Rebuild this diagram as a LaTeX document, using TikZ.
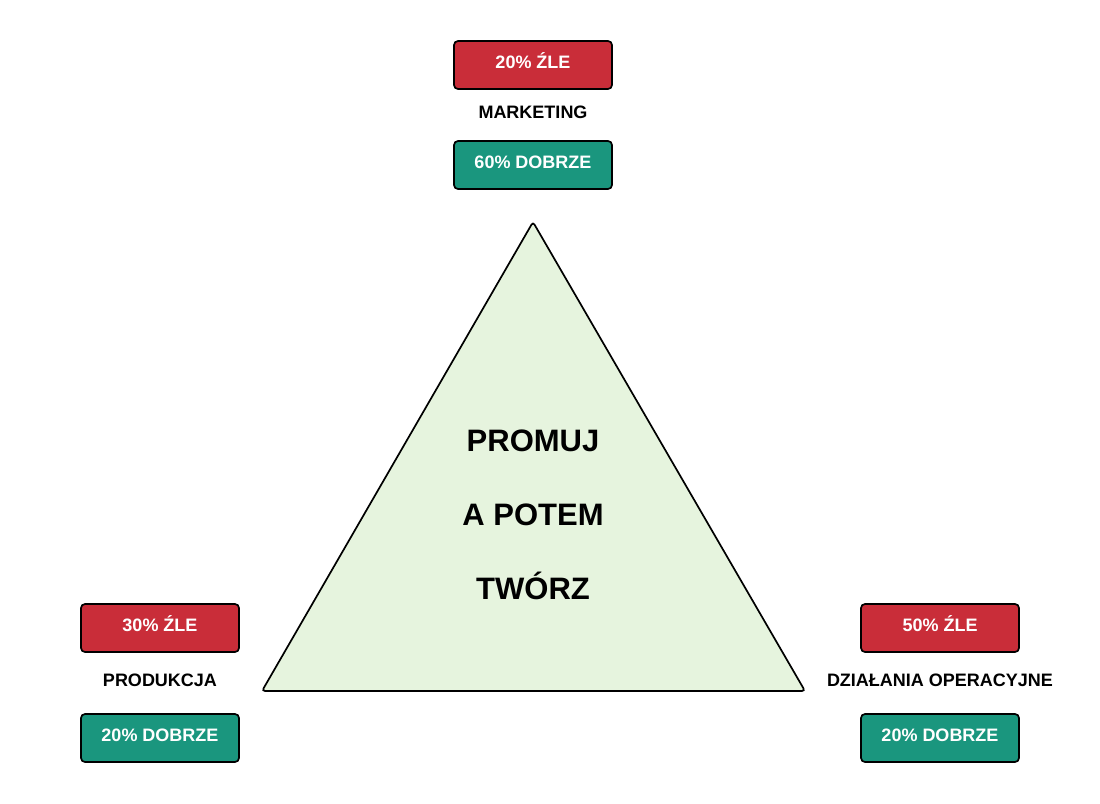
\documentclass[tikz,border=0pt]{standalone}
\usepackage{fontspec}
\setmainfont{Liberation Sans}
\definecolor{zle}{RGB}{201,45,57}
\definecolor{dobrze}{RGB}{26,150,126}
\definecolor{tlo}{RGB}{230,244,222}
\begin{document}
\begin{tikzpicture}[x=1pt, y=-1pt,
    box/.style={draw=black, line width=1.7pt, rounded corners=4pt,
      minimum width=158pt, minimum height=48pt, inner sep=0pt,
      text=white, font=\bfseries\fontsize{18}{21}\selectfont,
      text height=12.9pt, text depth=5pt},
    dzial/.style={inner sep=0pt, font=\bfseries\fontsize{18}{21}\selectfont,
      text height=12.9pt, text depth=0pt},
    haslo/.style={inner sep=0pt, font=\bfseries\fontsize{31}{36}\selectfont,
      text height=22.2pt, text depth=0pt}]
  \useasboundingbox (0,0) rectangle (1100,803);
  \draw[fill=tlo, line width=1.7pt, rounded corners=3pt]
    (533,222) -- (805,691) -- (262,691) -- cycle;
  \foreach \i/\x/\y/\yl/\yd/\zl/\db/\nazwa in {m/533/65/112.5/165/20/60/MARKETING,
      p/160/628/680/738/30/20/PRODUKCJA,
      o/940/628/680/738/50/20/DZIAŁANIA OPERACYJNE} {
    \node[box, fill=zle] (zle\i) at (\x,\y) {\zl\% ŹLE};
    \node[dzial] (dzial\i) at (\x,\yl) {\nazwa};
    \node[box, fill=dobrze] (dobrze\i) at (\x,\yd) {\db\% DOBRZE};
  }
  \node[haslo] (h1) at (533,440) {PROMUJ};
  \node[haslo] (h2) at (533,514) {A POTEM};
  \node[haslo] (h3) at (533,588) {TWÓRZ};
\end{tikzpicture}
\end{document}
